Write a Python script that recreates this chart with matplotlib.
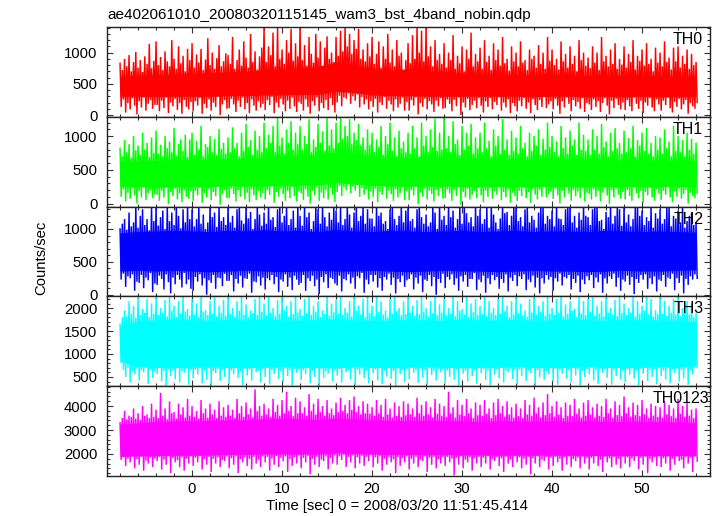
import numpy as np
import matplotlib
matplotlib.use("Agg")
import matplotlib.pyplot as plt
from matplotlib.ticker import MultipleLocator

# ---------------- data ----------------
title = "ae402061010_20080320115145_wam3_bst_4band_nobin.qdp"
xlabel = "Time [sec] 0 = 2008/03/20 11:51:45.414"
ylabel = "Counts/sec"
bands = ["TH0", "TH1", "TH2", "TH3", "TH0123"]
colors = ["#ff0000", "#00ff00", "#0000ff", "#00ffff", "#ff00ff"]

t0 = -8.0          # first sample time [s]
spike_dt = 0.25    # local max / local min read every 0.25 s
core_dt = 2.0      # dense core band read every 2 s

th0_hi = [830, 720, 900, 780, 960, 700, 850, 1010, 760, 880, 690, 940, 820, 1140, 750, 870,
          1180, 800, 930, 720, 1020, 860, 780, 1200, 900, 740, 1100, 830, 950, 700, 1060, 880,
          1150, 760, 970, 840, 1060, 720, 890, 1230, 800, 1000, 740, 910, 1120, 780, 860, 990,
          960, 820, 1250, 740, 880, 1050, 790, 1180, 920, 760, 1300, 850, 1020, 730, 940, 1080,
          1420, 850, 1100, 960, 1320, 780, 1420, 900, 1050, 820, 1200, 1000, 1380, 870, 1150, 940,
          1420, 880, 1120, 790, 1250, 980, 840, 1300, 920, 1180, 760, 1080, 1260, 900, 1000, 850,
          1250, 950, 1350, 1020, 1420, 1100, 1300, 980, 1200, 1060, 1380, 900, 1050, 860, 1150, 940,
          1250, 820, 980, 1180, 760, 1100, 900, 1300, 840, 1050, 780, 1200, 950, 1000, 720, 880,
          1150, 830, 1280, 900, 1420, 1000, 1350, 860, 1420, 940, 1100, 780, 1200, 880, 980, 820,
          1150, 760, 1000, 880, 1280, 740, 950, 830, 1100, 700, 1050, 900, 1320, 780, 980, 860,
          1080, 740, 1200, 850, 950, 720, 1150, 880, 1050, 790, 1250, 830, 900, 710, 1100, 860,
          1000, 780, 1180, 840, 880, 720, 1050, 900, 950, 760, 1120, 820, 1000, 740, 1250, 870,
          1050, 800, 900, 730, 1180, 860, 980, 760, 1100, 820, 950, 700, 1200, 880, 1000, 790,
          920, 750, 1100, 840, 1000, 720, 1250, 860, 950, 780, 1050, 820, 1150, 740, 900, 810,
          1100, 760, 980, 850, 1200, 730, 950, 870, 1050, 790, 1150, 820, 900, 700, 1080, 840,
          1000, 780, 1180, 850, 920, 730, 1080, 860, 1100, 760, 950, 820, 1050, 740, 980, 800,
          850]
th0_lo = [130, 250, 40, 190, 90, 270, 150, 10, 220, 120, 280, 70, 180, 240, 100, 160,
          160, 60, 230, 110, 280, 30, 200, 140, 260, 80, 190, 20, 240, 130, 90, 210,
          60, 220, 150, 270, 20, 180, 110, 250, 70, 200, 130, 290, 0, 170, 240, 100,
          110, 260, 170, 50, 230, 130, 280, 90, 190, 30, 250, 150, 70, 220, 120, 180,
          80, 240, 160, 290, 30, 200, 120, 260, 170, 60, 230, 100, 280, 140, 50, 210,
          180, 70, 250, 130, 20, 220, 150, 280, 60, 190, 110, 240, 80, 270, 160, 40,
          200, 310, 140, 280, 260, 350, 180, 300, 230, 330, 120, 290, 170, 250, 90, 220,
          130, 260, 40, 200, 160, 290, 100, 230, 170, 60, 250, 120, 180, 280, 70, 210,
          70, 240, 150, 280, 10, 190, 130, 260, 90, 220, 170, 50, 230, 140, 270, 100,
          110, 250, 180, 60, 240, 140, 280, 0, 200, 120, 260, 80, 160, 230, 110, 270,
          150, 40, 220, 130, 270, 90, 210, 160, 280, 70, 200, 120, 250, 30, 190, 140,
          60, 230, 140, 270, 100, 200, 30, 250, 160, 80, 240, 130, 290, 110, 170, 220,
          90, 260, 150, 20, 220, 120, 280, 180, 60, 240, 140, 210, 100, 270, 50, 190,
          170, 80, 250, 130, 220, 50, 190, 270, 150, 10, 230, 110, 260, 160, 90, 200,
          80, 240, 140, 60, 280, 180, 100, 230, 30, 200, 150, 270, 120, 60, 250, 170,
          70, 230, 160, 280, 110, 40, 210, 130, 260, 90, 170, 240, 20, 190, 140, 100,
          200]
th0_core_hi = [620, 640, 650, 660, 670, 680, 690, 700, 720, 740, 760, 780, 850, 810, 750, 720, 740,
               710, 690, 670, 660, 650, 650, 640, 650, 640, 630, 640, 630, 650, 630, 620, 620]
th0_core_lo = [300, 300, 290, 300, 300, 300, 310, 310, 320, 320, 330, 330, 380, 360, 320, 310, 310,
               300, 300, 300, 300, 300, 300, 290, 300, 300, 290, 300, 290, 300, 290, 290, 290]

th1_hi = [820, 700, 940, 760, 880, 680, 1000, 790, 860, 720, 1050, 800, 900, 690, 980, 750,
          1080, 740, 870, 700, 1000, 820, 920, 760, 1120, 710, 880, 950, 780, 1020, 690, 950,
          1050, 720, 930, 800, 1150, 700, 880, 840, 1000, 760, 960, 720, 1100, 810, 900, 740,
          980, 760, 1130, 820, 900, 700, 1050, 780, 1180, 840, 940, 720, 1080, 800, 1000, 760,
          1200, 820, 1020, 900, 1150, 760, 1280, 860, 980, 740, 1100, 900, 1220, 800, 1050, 880,
          1150, 800, 1000, 880, 1250, 760, 950, 840, 1180, 900, 1070, 780, 1280, 860, 1100, 820,
          1200, 900, 1280, 960, 1150, 1000, 1250, 880, 1050, 940, 1180, 860, 980, 800, 1100, 870,
          1050, 760, 950, 840, 1150, 720, 1000, 880, 1200, 780, 980, 700, 1080, 820, 920, 760,
          1050, 740, 1150, 820, 980, 700, 1200, 860, 1000, 760, 1100, 840, 1260, 780, 1050, 800,
          1280, 820, 1000, 760, 1220, 880, 950, 720, 1150, 800, 1050, 860, 1180, 740, 980, 820,
          1050, 760, 1200, 820, 930, 700, 1100, 860, 1000, 740, 1250, 800, 950, 720, 1080, 780,
          980, 740, 1150, 820, 900, 700, 1050, 780, 1000, 860, 1100, 720, 960, 800, 1200, 840,
          1000, 760, 920, 700, 1150, 820, 980, 740, 1080, 860, 950, 720, 1200, 800, 1020, 780,
          950, 720, 1100, 800, 1000, 740, 1180, 840, 920, 700, 1050, 780, 1120, 820, 900, 740,
          1080, 760, 970, 820, 1150, 700, 940, 860, 1050, 780, 1120, 740, 900, 700, 1000, 800,
          980, 740, 1100, 820, 920, 700, 1150, 780, 1000, 760, 940, 700, 1050, 800, 960, 740,
          900]
th1_lo = [100, 210, 30, 160, 70, 230, 120, 0, 180, 90, 240, 50, 150, 200, 80, 130,
          130, 40, 190, 90, 240, -10, 170, 110, 220, 60, 150, 20, 200, 100, 70, 180,
          40, 190, 120, 230, 10, 150, 90, 210, 50, 170, 110, 250, -20, 140, 200, 80,
          80, 220, 140, 30, 200, 100, 240, 60, 160, 20, 210, 120, 50, 190, 90, 150,
          60, 200, 130, 250, 10, 170, 100, 220, 140, 40, 190, 80, 240, 110, 30, 180,
          150, 50, 210, 100, 0, 190, 120, 240, 40, 160, 80, 200, 60, 230, 130, 20,
          170, 260, 110, 240, 200, 280, 150, 250, 190, 270, 100, 230, 130, 210, 60, 180,
          100, 220, 20, 170, 130, 250, 70, 190, 140, 40, 210, 90, 150, 240, 50, 180,
          50, 200, 120, 240, -10, 160, 100, 220, 60, 190, 140, 30, 200, 110, 230, 70,
          80, 210, 150, 40, 200, 110, 240, -20, 170, 90, 220, 60, 130, 190, 80, 230,
          120, 20, 190, 100, 230, 70, 180, 130, 240, 50, 170, 90, 210, 10, 160, 110,
          40, 190, 110, 230, 80, 170, 10, 210, 130, 60, 200, 100, 250, 90, 140, 180,
          70, 220, 120, 0, 190, 90, 240, 150, 40, 200, 110, 180, 80, 230, 30, 160,
          140, 60, 210, 100, 190, 30, 160, 230, 120, -10, 200, 90, 220, 130, 70, 170,
          60, 200, 110, 40, 240, 150, 80, 190, 10, 170, 120, 230, 90, 40, 210, 140,
          50, 190, 130, 240, 90, 20, 180, 100, 220, 70, 140, 200, 0, 160, 110, 80,
          150]
th1_core_hi = [620, 630, 640, 640, 650, 660, 660, 670, 680, 700, 710, 720, 770, 740, 700, 680, 680,
               690, 700, 680, 670, 660, 660, 650, 660, 650, 640, 650, 640, 650, 640, 640, 630]
th1_core_lo = [250, 250, 240, 250, 250, 250, 260, 260, 260, 270, 270, 280, 310, 290, 270, 260, 260,
               260, 260, 250, 250, 250, 250, 250, 250, 250, 250, 250, 250, 250, 250, 250, 250]

th2_hi = [1000, 1080, 1150, 990, 1250, 1040, 1100, 1360, 1020, 1200, 1300, 1060, 1150, 980, 1360, 1120,
          1360, 1050, 1180, 1280, 1000, 1360, 1120, 1250, 1060, 1360, 1200, 1010, 1300, 1100, 1360, 1150,
          1300, 1040, 1150, 1360, 1080, 1220, 1000, 1100, 1360, 1180, 1250, 1030, 1360, 1120, 1180, 1060,
          1360, 1100, 1200, 1020, 1300, 1360, 1130, 1080, 1360, 1160, 1260, 1000, 1150, 1360, 1220, 1050,
          1250, 1080, 1360, 1140, 1180, 1030, 1300, 1360, 1100, 1200, 1360, 1060, 1150, 1280, 1020, 1360,
          1200, 1050, 1360, 1180, 1250, 1000, 1120, 1360, 1300, 1080, 1360, 1180, 1040, 1250, 1140, 1360,
          1280, 1100, 1360, 1060, 1150, 1360, 1220, 1020, 1250, 1360, 1120, 1200, 1360, 1080, 1300, 1160,
          1160, 1040, 1360, 1200, 1250, 1080, 1120, 1000, 1300, 1360, 1150, 1060, 1200, 1360, 1100, 1280,
          1360, 1120, 1150, 1020, 1300, 1360, 1180, 1080, 1220, 1040, 1100, 1360, 1250, 1000, 1360, 1140,
          1200, 1060, 1360, 1180, 1280, 1020, 1150, 1360, 1080, 1360, 1240, 1100, 1180, 1040, 1360, 1200,
          1300, 1080, 1150, 1360, 1020, 1360, 1220, 1100, 1000, 1160, 1360, 1240, 1260, 1060, 1200, 1360,
          1360, 1120, 1180, 1040, 1300, 1360, 1100, 1200, 1140, 1020, 1250, 1360, 1360, 1080, 1200, 1150,
          1280, 1040, 1360, 1160, 1150, 1060, 1300, 1360, 1360, 1100, 1200, 1020, 1250, 1140, 1360, 1200,
          1180, 1060, 1300, 1360, 1360, 1120, 1140, 1000, 1260, 1180, 1360, 1080, 1200, 1360, 1300, 1050,
          1360, 1100, 1220, 1040, 1150, 1360, 1360, 1200, 1280, 1060, 1180, 1120, 1360, 1020, 1240, 1160,
          1300, 1080, 1150, 1360, 1360, 1040, 1200, 1160, 1280, 1100, 1360, 1020, 1120, 1200, 1250, 1060,
          1100]
th2_lo = [230, 320, 120, 280, 250, 310, 60, 200, 180, 300, 100, 260, 220, 330, 40, 170,
          150, 290, 240, 80, 310, 190, 20, 260, 160, 300, 230, 110, 330, 160, 230, 90,
          60, 270, 200, 310, 140, 250, 0, 220, 180, 300, 90, 260, 250, 130, 320, 210,
          210, 300, 50, 240, 170, 290, 110, 250, 240, 320, 30, 200, 190, 280, 140, 260,
          80, 250, 220, 300, 160, 270, 40, 230, 200, 310, 120, 260, 70, 290, 230, 150,
          180, 300, 60, 250, 210, 290, 130, 230, 10, 270, 190, 310, 100, 260, 240, 170,
          140, 290, 50, 240, 220, 310, 170, 260, 90, 280, 250, 330, 30, 230, 160, 300,
          200, 300, 110, 250, 60, 270, 230, 320, 150, 260, 20, 240, 190, 290, 120, 220,
          240, 310, 80, 260, 170, 290, 40, 230, 210, 300, 130, 270, 0, 240, 180, 320,
          100, 270, 230, 310, 150, 250, 60, 280, 200, 300, 120, 240, 240, 330, 70, 230,
          190, 290, 30, 250, 160, 300, 220, 270, 90, 240, 180, 310, 50, 260, 210, 300,
          130, 280, 240, 310, 70, 230, 190, 290, 110, 260, 20, 250, 170, 300, 230, 270,
          60, 250, 200, 320, 140, 270, 250, 300, 80, 240, 180, 290, 40, 230, 160, 280,
          220, 300, 100, 260, 190, 310, 30, 250, 170, 280, 240, 320, 120, 260, 60, 230,
          200, 290, 150, 270, 10, 240, 180, 300, 230, 310, 90, 250, 160, 280, 50, 230,
          210, 300, 120, 260, 240, 320, 70, 250, 180, 290, 20, 240, 150, 280, 230, 310,
          250]
th2_core_hi = [940, 960, 970, 980, 970, 960, 980, 970, 990, 970, 980, 960, 990, 970, 960, 980, 970,
               960, 970, 980, 960, 970, 980, 960, 970, 970, 960, 980, 970, 960, 970, 960, 950]
th2_core_lo = [360, 370, 360, 370, 360, 350, 360, 370, 360, 350, 360, 370, 360, 360, 370, 360, 350,
               360, 370, 360, 360, 350, 360, 370, 360, 360, 350, 360, 370, 360, 360, 370, 380]

th3_hi = [1650, 1800, 1950, 1820, 2150, 1880, 2050, 1790, 2280, 1850, 1980, 1900, 2200, 1810, 2100, 1870,
          2280, 1850, 2000, 1900, 2180, 1820, 2280, 1950, 2050, 1800, 2150, 1880, 2280, 1930, 1980, 1840,
          2200, 1860, 2100, 1800, 2280, 1920, 1950, 1850, 2150, 1880, 2280, 1820, 2050, 1900, 2180, 1830,
          2280, 1870, 2000, 1810, 2150, 1940, 2280, 1860, 2080, 1800, 1950, 1890, 2200, 1850, 2280, 1920,
          2100, 1840, 2280, 1900, 2000, 1820, 2180, 1880, 2280, 1950, 2050, 1810, 2150, 1870, 2280, 1900,
          1980, 1830, 2200, 1890, 2280, 1850, 2050, 1920, 2150, 1800, 1950, 1870, 2280, 1840, 2100, 1910,
          2180, 1880, 2280, 1850, 2000, 1900, 2150, 1820, 2280, 1940, 2050, 1860, 2200, 1800, 2280, 1890,
          2050, 1820, 2280, 1910, 2150, 1860, 1950, 1800, 2200, 1880, 2280, 1930, 2000, 1840, 2150, 1870,
          2280, 1900, 2050, 1830, 2180, 1870, 2280, 1920, 2000, 1810, 2150, 1890, 2280, 1850, 2080, 1900,
          2200, 1840, 2000, 1880, 2280, 1820, 2150, 1940, 1980, 1860, 2280, 1800, 2100, 1910, 2200, 1850,
          2050, 1870, 2280, 1820, 2150, 1900, 2000, 1850, 2200, 1880, 2280, 1930, 2050, 1800, 2150, 1860,
          2280, 1890, 2100, 1840, 1950, 1810, 2200, 1900, 2280, 1860, 2050, 1920, 2150, 1830, 2280, 1880,
          2000, 1850, 2200, 1900, 2280, 1820, 2080, 1870, 2150, 1940, 1980, 1800, 2280, 1880, 2150, 1850,
          2200, 1910, 2280, 1840, 2050, 1880, 2150, 1820, 2280, 1900, 2000, 1860, 2180, 1830, 2280, 1890,
          2100, 1850, 2000, 1900, 2280, 1820, 2150, 1880, 2050, 1940, 2280, 1860, 2200, 1810, 1950, 1870,
          2280, 1880, 2150, 1830, 2050, 1900, 2200, 1850, 2280, 1820, 2000, 1910, 2150, 1860, 2100, 1800,
          1900]
th3_lo = [800, 650, 500, 700, 380, 620, 560, 680, 420, 640, 600, 700, 350, 660, 480, 610,
          560, 690, 400, 630, 300, 670, 520, 640, 450, 700, 380, 620, 590, 680, 330, 650,
          470, 660, 550, 700, 360, 640, 440, 690, 300, 620, 580, 670, 410, 650, 500, 700,
          350, 640, 560, 690, 480, 620, 320, 680, 530, 660, 420, 700, 600, 630, 380, 670,
          500, 690, 340, 650, 570, 700, 450, 620, 380, 680, 520, 640, 310, 670, 590, 660,
          430, 650, 560, 700, 360, 630, 500, 690, 300, 660, 480, 620, 570, 680, 400, 640,
          530, 670, 380, 700, 600, 640, 440, 690, 320, 650, 550, 680, 470, 630, 360, 700,
          580, 660, 420, 690, 340, 640, 510, 700, 460, 620, 300, 680, 560, 650, 390, 670,
          450, 700, 590, 640, 370, 680, 480, 650, 330, 690, 540, 620, 420, 670, 600, 660,
          360, 640, 500, 700, 440, 660, 310, 690, 570, 630, 400, 680, 520, 650, 350, 700,
          580, 670, 430, 640, 320, 690, 550, 660, 470, 700, 380, 630, 600, 680, 450, 650,
          340, 660, 520, 700, 410, 640, 580, 690, 300, 650, 490, 680, 440, 620, 560, 700,
          400, 680, 330, 650, 570, 700, 460, 640, 380, 690, 530, 660, 310, 630, 500, 670,
          560, 700, 420, 640, 350, 680, 590, 660, 480, 690, 330, 650, 520, 700, 440, 630,
          380, 660, 550, 690, 460, 640, 320, 680, 570, 700, 410, 650, 500, 670, 340, 690,
          520, 640, 440, 700, 360, 660, 580, 680, 400, 650, 470, 690, 330, 640, 550, 700,
          700]
th3_core_hi = [1600, 1720, 1740, 1760, 1740, 1730, 1750, 1740, 1760, 1740, 1730, 1750, 1760, 1740,
               1730, 1740, 1750, 1740, 1730, 1760, 1740, 1740, 1750, 1730, 1740, 1760, 1740, 1730,
               1750, 1740, 1740, 1730, 1700]
th3_core_lo = [850, 720, 710, 700, 710, 720, 710, 700, 710, 720, 710, 710, 700, 720, 710, 700, 710,
               720, 710, 700, 710, 710, 720, 710, 700, 710, 720, 710, 700, 710, 720, 710, 750]

th0123_hi = [3300, 3500, 3800, 3450, 3600, 3550, 3900, 3480, 3700, 3420, 4000, 3600, 3650, 3500, 4100, 3550,
             3850, 3500, 4550, 3600, 3900, 3450, 4200, 3700, 3750, 3480, 4100, 3650, 3950, 3520, 4300, 3600,
             4000, 3550, 3800, 3480, 4250, 3700, 3900, 3520, 4100, 3650, 3850, 3500, 4200, 3600, 3950, 3550,
             4050, 3600, 3850, 3500, 4300, 3700, 4000, 3550, 4150, 3650, 3900, 3520, 4700, 3800, 4000, 3600,
             4100, 3650, 3900, 3550, 4300, 3750, 4050, 3600, 4250, 3700, 4600, 3800, 4000, 3580, 4350, 3700,
             4200, 3700, 3950, 3600, 4500, 3800, 4100, 3650, 4300, 3750, 4000, 3600, 4250, 3700, 3900, 3620,
             4150, 3750, 4350, 3800, 4050, 3700, 4250, 3850, 4400, 3750, 4000, 3650, 4200, 3700, 4100, 3680,
             3950, 3600, 4250, 3700, 4050, 3550, 4300, 3650, 3900, 3520, 4150, 3600, 4000, 3550, 4200, 3620,
             4100, 3650, 3900, 3550, 4350, 3700, 4050, 3600, 4200, 3650, 3950, 3520, 4300, 3680, 4100, 3600,
             4000, 3550, 4600, 3700, 3950, 3520, 4250, 3650, 4050, 3580, 4300, 3700, 3900, 3500, 4150, 3620,
             4050, 3600, 4250, 3680, 3900, 3500, 4150, 3620, 4300, 3700, 4000, 3550, 4200, 3650, 3950, 3520,
             4100, 3580, 3900, 3500, 4250, 3650, 4050, 3600, 4350, 3700, 3950, 3520, 4150, 3620, 4500, 3700,
             4000, 3550, 4200, 3650, 3950, 3500, 4150, 3600, 4050, 3580, 4300, 3680, 3900, 3520, 4150, 3600,
             4250, 3650, 3950, 3520, 4100, 3600, 4000, 3550, 4300, 3700, 3900, 3500, 4200, 3620, 4050, 3580,
             4400, 3700, 3950, 3550, 4150, 3620, 4050, 3580, 4250, 3650, 3900, 3500, 4100, 3600, 4000, 3550,
             3950, 3520, 4200, 3650, 4050, 3580, 3900, 3500, 4300, 3680, 4000, 3550, 4150, 3600, 3850, 3500,
             3900]
th0123_lo = [1750, 1850, 1500, 1800, 1650, 1900, 1400, 1780, 1550, 1880, 1300, 1720, 1600, 1850, 1450, 1800,
             1700, 1880, 1350, 1760, 1550, 1900, 1200, 1820, 1650, 1740, 1450, 1860, 1300, 1800, 1600, 1900,
             1500, 1840, 1650, 1900, 1350, 1780, 1550, 1880, 1250, 1800, 1600, 1860, 1450, 1750, 1700, 1900,
             1400, 1820, 1550, 1900, 1200, 1780, 1650, 1860, 1500, 1800, 1350, 1880, 1600, 1760, 1450, 1900,
             1650, 1880, 1300, 1800, 1550, 1920, 1450, 1840, 1700, 1900, 1250, 1780, 1500, 1860, 1600, 1940,
             1400, 1840, 1650, 1920, 1150, 1800, 1550, 1880, 1450, 1760, 1700, 1900, 1350, 1820, 1600, 1940,
             1550, 1900, 1750, 1960, 1450, 1880, 1650, 1940, 1400, 1860, 1600, 1920, 1500, 1880, 1700, 1950,
             1450, 1860, 1600, 1900, 1300, 1800, 1550, 1880, 1650, 1780, 1200, 1860, 1500, 1820, 1650, 1900,
             1350, 1800, 1600, 1880, 1450, 1760, 1700, 1900, 1250, 1840, 1550, 1880, 1400, 1780, 1600, 1860,
             1500, 1880, 1650, 1800, 1100, 1840, 1550, 1900, 1400, 1760, 1650, 1860, 1300, 1820, 1600, 1880,
             1450, 1840, 1600, 1900, 1350, 1780, 1700, 1860, 1500, 1820, 1250, 1880, 1600, 1760, 1450, 1900,
             1650, 1860, 1400, 1800, 1550, 1880, 1150, 1820, 1600, 1900, 1450, 1760, 1700, 1880, 1350, 1840,
             1500, 1880, 1650, 1800, 1300, 1860, 1550, 1900, 1450, 1780, 1700, 1840, 1400, 1880, 1600, 1820,
             1350, 1840, 1600, 1900, 1500, 1760, 1250, 1880, 1650, 1820, 1450, 1860, 1550, 1800, 1400, 1880,
             1600, 1860, 1450, 1800, 1700, 1900, 1350, 1840, 1550, 1880, 1200, 1780, 1650, 1860, 1500, 1900,
             1450, 1820, 1600, 1880, 1300, 1800, 1550, 1900, 1700, 1760, 1400, 1860, 1600, 1840, 1250, 1880,
             1700]
th0123_core_hi = [3250, 3300, 3350, 3380, 3380, 3400, 3420, 3420, 3460, 3480, 3460, 3440, 3500, 3460,
                  3420, 3400, 3380, 3400, 3380, 3380, 3360, 3380, 3380, 3360, 3380, 3360, 3380, 3360,
                  3340, 3360, 3340, 3330, 3300]
th0123_core_lo = [1900, 1920, 1930, 1950, 1950, 1960, 1980, 1980, 2000, 2000, 2000, 2000, 2050, 2020,
                  2000, 1980, 1980, 1970, 1970, 1960, 1960, 1950, 1950, 1950, 1950, 1950, 1940, 1940,
                  1940, 1940, 1930, 1930, 1950]

his = [th0_hi, th1_hi, th2_hi, th3_hi, th0123_hi]
los = [th0_lo, th1_lo, th2_lo, th3_lo, th0123_lo]
core_his = [th0_core_hi, th1_core_hi, th2_core_hi, th3_core_hi, th0123_core_hi]
core_los = [th0_core_lo, th1_core_lo, th2_core_lo, th3_core_lo, th0123_core_lo]

ylims = [(-28, 1410), (-45, 1285), (-25, 1340), (298, 2255), (1080, 4830)]
ymajor = [500, 500, 500, 500, 1000]
yminor = [100, 100, 100, 100, 200]

# ---------------- drawing ----------------
plt.rcParams["font.family"] = ["Liberation Sans", "DejaVu Sans"]
plt.rcParams["font.size"] = 10.7

W, H = 717, 516
fig = plt.figure(figsize=(W / 100, H / 100), dpi=100)
left, right = 107 / W, 710 / W
top, bottom = 1 - 27 / H, 1 - 476 / H
gs = fig.add_gridspec(5, 1, left=left, right=right, top=top, bottom=bottom, hspace=0)

label_right = [703, 703, 704, 704, 709]
for i in range(5):
    ax = fig.add_subplot(gs[i, 0])
    n = min(len(his[i]), len(los[i]))
    hi = np.asarray(his[i][:n], dtype=float)
    lo = np.asarray(los[i][:n], dtype=float)
    t = t0 + spike_dt * np.arange(n)
    x = np.empty(2 * n)
    y = np.empty(2 * n)
    x[0::2] = t
    x[1::2] = t + spike_dt / 2
    y[0::2] = hi
    y[1::2] = lo
    ct = t0 + core_dt * np.arange(len(core_his[i]))
    ax.fill_between(ct, core_los[i], core_his[i], color=colors[i], lw=0)
    ax.plot(x, y, color=colors[i], lw=1.05, solid_joinstyle="miter")
    ax.set_xlim(-9.45, 57.55)
    ax.set_ylim(*ylims[i])
    ax.xaxis.set_major_locator(MultipleLocator(10))
    ax.xaxis.set_minor_locator(MultipleLocator(2))
    ax.yaxis.set_major_locator(MultipleLocator(ymajor[i]))
    ax.yaxis.set_minor_locator(MultipleLocator(yminor[i]))
    ax.tick_params(which="both", direction="in", top=True, right=True,
                   color="#333333", width=0.8)
    ax.tick_params(which="major", length=4.3, pad=7)
    ax.tick_params(which="minor", length=2.2)
    ax.tick_params(axis="x", which="major", pad=4)
    for s in ax.spines.values():
        s.set_color("#222222")
        s.set_linewidth(1.0)
        s.set_zorder(3)
    if i < 4:
        ax.tick_params(labelbottom=False)
    ax.text((label_right[i] - 107) / (710 - 107), 1 - 5 / 90, bands[i],
            transform=ax.transAxes, ha="right", va="top", fontsize=11.5, zorder=4)

fig.text(107 / W, 1 - 19 / H, title, ha="left", va="baseline", fontsize=11)
fig.text(41 / W, 1 - 258 / H, ylabel, rotation=90, ha="center", va="center")
fig.text(397 / W, 1 - 506 / H, xlabel, ha="center", va="center")

fig.savefig("out.png", dpi=100)
